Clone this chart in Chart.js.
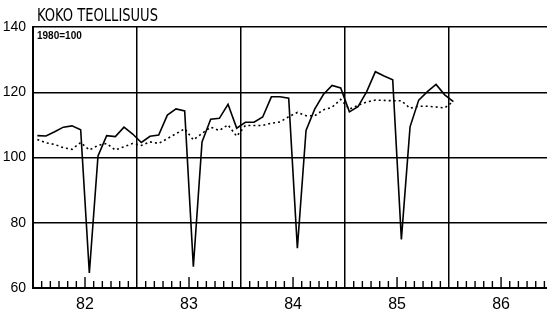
<!DOCTYPE html>
<html>
<head>
<meta charset="utf-8">
<script src="https://cdn.jsdelivr.net/npm/chart.js@4"></script>
<style>
  html, body { margin: 0; padding: 0; background: #fff; }
  #wrap { width: 547px; height: 311px; }
</style>
</head>
<body>
<div id="wrap"><canvas id="myChart" width="547" height="311"></canvas></div>
<script>
// monthly values, Jan 1982 .. Jan 1986 (1980=100)
const years = ['82', '83', '84', '85', '86'];
const titleText = 'KOKO TEOLLISUUS';
const baseLabel = '1980=100';

const index = [
  106.7, 106.6, 107.9, 109.3, 109.7, 108.5, 64.6, 100.5, 106.7, 106.4, 109.3, 107.2,
  104.6, 106.5, 106.9, 113.0, 114.9, 114.3, 66.5, 104.8, 111.7, 112.0, 116.3, 109.0,
  110.8, 110.8, 112.4, 118.6, 118.6, 118.2, 72.2, 108.3, 114.8, 119.3, 122.1, 121.3,
  114.0, 115.6, 120.2, 126.3, 125.0, 123.8, 74.9, 109.4, 117.6, 120.2, 122.4, 119.2,
  117.1
];
const trend = [
  105.5, 104.5, 104.0, 103.0, 102.5, 104.6, 102.3, 103.7, 104.3, 102.3, 103.3, 104.3,
  103.7, 104.8, 104.3, 105.8, 107.3, 108.8, 105.4, 107.4, 109.3, 108.3, 110.0, 106.5,
  109.8, 109.8, 109.8, 110.5, 110.9, 112.5, 113.8, 112.8, 112.8, 114.6, 115.4, 117.8,
  114.8, 116.0, 117.0, 117.6, 117.5, 117.4, 117.4, 115.1, 115.7, 115.7, 115.5, 115.2,
  117.2
];

const font = "'Liberation Sans', Arial, sans-serif";

// month i sits in the middle of its slot
const toPoints = arr => arr.map((v, i) => ({x: i + 0.5, y: v}));

// month ticks inside the plot, plus the title and base-year note
const decor = {
  id: 'decor',
  afterDraw(chart) {
    const {ctx, chartArea, scales} = chart;
    const x = scales.x;
    ctx.save();
    ctx.strokeStyle = '#000';
    ctx.lineWidth = 1.4;
    for (let m = 1; m < 60; m++) {
      if (m % 12 === 0) continue;
      const px = x.getPixelForValue(m);
      if (px > chartArea.right) break;
      const len = (m % 12 === 6) ? 11 : 7;
      ctx.beginPath();
      ctx.moveTo(px, chartArea.bottom);
      ctx.lineTo(px, chartArea.bottom - len);
      ctx.stroke();
    }
    ctx.fillStyle = '#000';
    ctx.textBaseline = 'alphabetic';
    // title squeezed to the width it has in the original
    ctx.font = "17px 'DejaVu Sans Condensed', sans-serif";
    const w = ctx.measureText(titleText).width;
    ctx.save();
    ctx.translate(37, 21);
    ctx.scale(121 / w, 1);
    ctx.fillText(titleText, 0, 0);
    ctx.restore();
    ctx.font = 'bold 10px ' + font;
    ctx.fillText(baseLabel, 37, 38.5);
    ctx.restore();
  }
};

window.addEventListener('load', () => {
  const ctx = document.getElementById('myChart').getContext('2d');
  new Chart(ctx, {
    type: 'line',
    data: {
      datasets: [{
        label: 'index',
        data: toPoints(index),
        borderColor: '#000',
        borderWidth: 1.6,
        pointRadius: 0,
        tension: 0
      }, {
        label: 'trend',
        data: toPoints(trend),
        borderColor: '#000',
        borderWidth: 1.6,
        borderDash: [2, 3],
        pointRadius: 0,
        tension: 0
      }]
    },
    plugins: [decor],
    options: {
      responsive: false,
      animation: false,
      layout: {padding: {top: 27, left: 0, right: 0, bottom: 0}},
      plugins: {legend: {display: false}, tooltip: {enabled: false}},
      scales: {
        x: {
          type: 'linear',
          min: 0,
          max: 59.3,
          afterBuildTicks: axis => {
            axis.ticks = [6, 12, 18, 24, 30, 36, 42, 48, 54].map(v => ({value: v}));
          },
          afterFit: s => { s.height = 23; },
          ticks: {
            autoSkip: false,
            maxRotation: 0,
            padding: 7,
            color: '#000',
            font: {family: font, size: 16},
            callback: v => (v % 12 === 6 ? years[(v - 6) / 12] : '')
          },
          grid: {
            drawTicks: false,
            lineWidth: 1.5,
            color: c => (c.tick && c.tick.value % 12 === 0 ? '#000' : 'rgba(0,0,0,0)')
          },
          border: {display: true, color: '#000', width: 2}
        },
        y: {
          min: 60,
          max: 140,
          afterFit: s => { s.width = 33; },
          ticks: {
            stepSize: 20,
            padding: 7,
            color: '#000',
            font: {family: font, size: 14}
          },
          grid: {drawTicks: false, color: '#000', lineWidth: 1.5},
          border: {display: true, color: '#000', width: 2}
        }
      }
    }
  });
});
</script>
</body>
</html>
